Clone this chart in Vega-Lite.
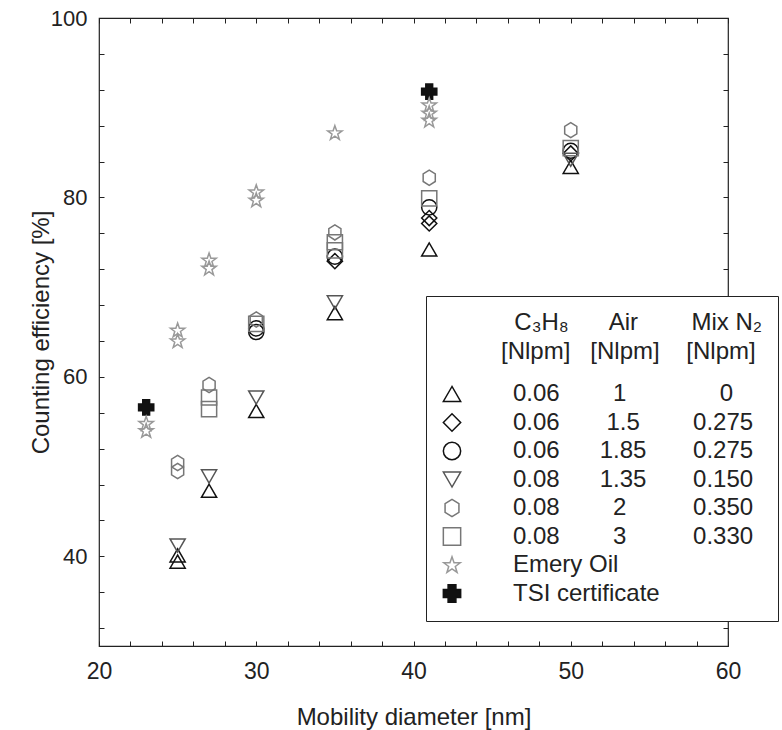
{
  "$schema": "https://vega.github.io/schema/vega-lite/v6.json",
  "width": 629,
  "height": 628,
  "autosize": {"type": "none"},
  "padding": {"left": 99, "top": 18, "right": 54, "bottom": 84},
  "background": "white",
  "config": {
    "font": "Liberation Sans",
    "view": {"stroke": "#222", "strokeWidth": 1.2},
    "axis": {
      "grid": false,
      "domain": false,
      "tickColor": "#222",
      "tickSize": -5,
      "tickWidth": 1,
      "labelFlush": false,
      "labelFont": "Liberation Sans",
      "labelFontSize": 22,
      "labelColor": "#222",
      "titleFont": "Liberation Sans",
      "titleFontSize": 24,
      "titleFontWeight": "normal",
      "titleColor": "#222"
    }
  },
  "data": {
    "values": [
      {"diameter": 23, "efficiency": 56.6, "series": "TSI"},
      {"diameter": 41, "efficiency": 91.8, "series": "TSI"},
      {"diameter": 23, "efficiency": 54.0, "series": "Emery"},
      {"diameter": 23, "efficiency": 54.8, "series": "Emery"},
      {"diameter": 25, "efficiency": 65.2, "series": "Emery"},
      {"diameter": 25, "efficiency": 64.0, "series": "Emery"},
      {"diameter": 27, "efficiency": 73.0, "series": "Emery"},
      {"diameter": 27, "efficiency": 72.1, "series": "Emery"},
      {"diameter": 30, "efficiency": 80.6, "series": "Emery"},
      {"diameter": 30, "efficiency": 79.7, "series": "Emery"},
      {"diameter": 35, "efficiency": 87.2, "series": "Emery"},
      {"diameter": 41, "efficiency": 90.3, "series": "Emery"},
      {"diameter": 41, "efficiency": 89.4, "series": "Emery"},
      {"diameter": 41, "efficiency": 88.6, "series": "Emery"},
      {"diameter": 25, "efficiency": 39.4, "series": "A"},
      {"diameter": 25, "efficiency": 40.1, "series": "A"},
      {"diameter": 27, "efficiency": 47.3, "series": "A"},
      {"diameter": 30, "efficiency": 56.2, "series": "A"},
      {"diameter": 35, "efficiency": 67.1, "series": "A"},
      {"diameter": 41, "efficiency": 74.2, "series": "A"},
      {"diameter": 50, "efficiency": 83.4, "series": "A"},
      {"diameter": 35, "efficiency": 72.9, "series": "B"},
      {"diameter": 41, "efficiency": 77.7, "series": "B"},
      {"diameter": 41, "efficiency": 77.1, "series": "B"},
      {"diameter": 50, "efficiency": 84.9, "series": "B"},
      {"diameter": 30, "efficiency": 65.4, "series": "C"},
      {"diameter": 30, "efficiency": 65.0, "series": "C"},
      {"diameter": 35, "efficiency": 73.4, "series": "C"},
      {"diameter": 41, "efficiency": 78.9, "series": "C"},
      {"diameter": 50, "efficiency": 85.2, "series": "C"},
      {"diameter": 25, "efficiency": 41.2, "series": "D"},
      {"diameter": 27, "efficiency": 48.9, "series": "D"},
      {"diameter": 30, "efficiency": 57.7, "series": "D"},
      {"diameter": 35, "efficiency": 68.3, "series": "D"},
      {"diameter": 50, "efficiency": 84.2, "series": "D"},
      {"diameter": 25, "efficiency": 50.4, "series": "E"},
      {"diameter": 25, "efficiency": 49.5, "series": "E"},
      {"diameter": 27, "efficiency": 59.1, "series": "E"},
      {"diameter": 30, "efficiency": 66.4, "series": "E"},
      {"diameter": 35, "efficiency": 76.1, "series": "E"},
      {"diameter": 41, "efficiency": 82.2, "series": "E"},
      {"diameter": 50, "efficiency": 87.5, "series": "E"},
      {"diameter": 27, "efficiency": 57.7, "series": "F"},
      {"diameter": 27, "efficiency": 56.4, "series": "F"},
      {"diameter": 30, "efficiency": 65.9, "series": "F"},
      {"diameter": 35, "efficiency": 75.0, "series": "F"},
      {"diameter": 35, "efficiency": 74.1, "series": "F"},
      {"diameter": 41, "efficiency": 79.9, "series": "F"},
      {"diameter": 50, "efficiency": 85.5, "series": "F"}
    ]
  },
  "layer": [
    {
      "mark": {"type": "point", "filled": false, "strokeWidth": 1.5, "size": 230, "opacity": 1},
      "encoding": {
        "x": {
          "field": "diameter",
          "type": "quantitative",
          "scale": {"domain": [20, 60], "nice": false, "zero": false},
          "axis": {
            "orient": "bottom",
            "values": [20, 22, 24, 26, 28, 30, 32, 34, 36, 38, 40, 42, 44, 46, 48, 50, 52, 54, 56, 58, 60],
            "labelExpr": "datum.value % 10 === 0 ? datum.label : ''",
            "labelFontSize": 23,
            "labelPadding": 19,
            "titlePadding": 22,
            "title": "Mobility diameter [nm]"
          }
        },
        "y": {
          "field": "efficiency",
          "type": "quantitative",
          "scale": {"domain": [30, 100], "nice": false, "zero": false},
          "axis": {
            "orient": "left",
            "values": [32, 36, 40, 44, 48, 52, 56, 60, 64, 68, 72, 76, 80, 84, 88, 92, 96, 100],
            "labelExpr": "datum.value % 20 === 0 ? datum.label : ''",
            "labelPadding": 17,
            "titlePadding": -3,
            "title": "Counting efficiency [%]"
          }
        },
        "shape": {
          "field": "series",
          "type": "nominal",
          "scale": {
            "domain": ["A", "B", "C", "D", "E", "F", "Emery", "TSI"],
            "range": [
              "triangle-up",
              "diamond",
              "circle",
              "triangle-down",
              "M0,-1L0.8,-0.5L0.8,0.5L0,1L-0.8,0.5L-0.8,-0.5Z",
              "square",
              "M0,-0.95L0.235,-0.27L0.951,-0.26L0.38,0.17L0.588,0.86L0,0.45L-0.588,0.86L-0.38,0.17L-0.951,-0.26L-0.235,-0.27Z",
              "M-0.45,-1H0.45V-0.45H1V0.45H0.45V1H-0.45V0.45H-1V-0.45H-0.45Z"
            ]
          },
          "legend": {
            "orient": "none",
            "legendX": 327,
            "legendY": 278,
            "title": [
              "\u200b\u00a0\u00a0\u00a0\u00a0\u00a0\u00a0\u00a0\u00a0\u00a0\u00a0\u00a0C\u2083H\u2088\u00a0\u00a0\u00a0\u00a0\u00a0\u00a0Air\u00a0\u00a0\u00a0\u00a0\u00a0\u00a0\u00a0\u00a0Mix N\u2082",
              "\u200b\u00a0\u00a0\u00a0\u00a0\u00a0\u00a0\u00a0\u00a0\u00a0[Nlpm]\u00a0\u00a0\u00a0[Nlpm]\u00a0\u00a0\u00a0\u00a0[Nlpm]"
            ],
            "titleFont": "Liberation Sans",
            "titleFontSize": 24,
            "titleFontWeight": "normal",
            "titleColor": "#222",
            "titleLineHeight": 29,
            "titlePadding": 18,
            "titleLimit": 600,
            "labelFont": "Liberation Sans",
            "labelFontSize": 24,
            "labelColor": "#222",
            "labelLimit": 600,
            "labelOffset": 49,
            "labelExpr": "datum.label === 'A' ? '0.06\u00a0\u00a0\u00a0\u00a0\u00a0\u00a0\u00a0\u00a01\u00a0\u00a0\u00a0\u00a0\u00a0\u00a0\u00a0\u00a0\u00a0\u00a0\u00a0\u00a0\u00a0\u00a00' : datum.label === 'B' ? '0.06\u00a0\u00a0\u00a0\u00a0\u00a0\u00a0\u00a01.5\u00a0\u00a0\u00a0\u00a0\u00a0\u00a0\u00a0\u00a00.275' : datum.label === 'C' ? '0.06\u00a0\u00a0\u00a0\u00a0\u00a0\u00a01.85\u00a0\u00a0\u00a0\u00a0\u00a0\u00a0\u00a00.275' : datum.label === 'D' ? '0.08\u00a0\u00a0\u00a0\u00a0\u00a0\u00a01.35\u00a0\u00a0\u00a0\u00a0\u00a0\u00a0\u00a00.150' : datum.label === 'E' ? '0.08\u00a0\u00a0\u00a0\u00a0\u00a0\u00a0\u00a0\u00a02\u00a0\u00a0\u00a0\u00a0\u00a0\u00a0\u00a0\u00a0\u00a0\u00a00.350' : datum.label === 'F' ? '0.08\u00a0\u00a0\u00a0\u00a0\u00a0\u00a0\u00a0\u00a03\u00a0\u00a0\u00a0\u00a0\u00a0\u00a0\u00a0\u00a0\u00a0\u00a00.330' : datum.label === 'Emery' ? 'Emery Oil' : 'TSI certificate'",
            "symbolSize": 300,
            "symbolStrokeWidth": 1.5,
            "symbolOffset": -1,
            "rowPadding": 4.5,
            "padding": 15,
            "strokeColor": "#222",
            "fillColor": "white"
          }
        },
        "stroke": {
          "field": "series",
          "type": "nominal",
          "scale": {
            "domain": ["A", "B", "C", "D", "E", "F", "Emery", "TSI"],
            "range": ["#111", "#111", "#111", "#555", "#777", "#777", "#999", "#111"]
          }
        },
        "fill": {
          "field": "series",
          "type": "nominal",
          "scale": {
            "domain": ["A", "B", "C", "D", "E", "F", "Emery", "TSI"],
            "range": ["transparent", "transparent", "transparent", "transparent", "transparent", "transparent", "transparent", "#111"]
          }
        }
      }
    },
    {
      "mark": {"type": "point", "opacity": 0},
      "encoding": {
        "x": {
          "field": "diameter",
          "type": "quantitative",
          "axis": {
            "orient": "top",
            "values": [20, 22, 24, 26, 28, 30, 32, 34, 36, 38, 40, 42, 44, 46, 48, 50, 52, 54, 56, 58, 60],
            "labels": false,
            "title": null
          }
        },
        "y": {
          "field": "efficiency",
          "type": "quantitative",
          "axis": {
            "orient": "right",
            "values": [32, 36, 40, 44, 48, 52, 56, 60, 64, 68, 72, 76, 80, 84, 88, 92, 96, 100],
            "labels": false,
            "title": null
          }
        }
      }
    }
  ],
  "resolve": {"axis": {"x": "independent", "y": "independent"}}
}
